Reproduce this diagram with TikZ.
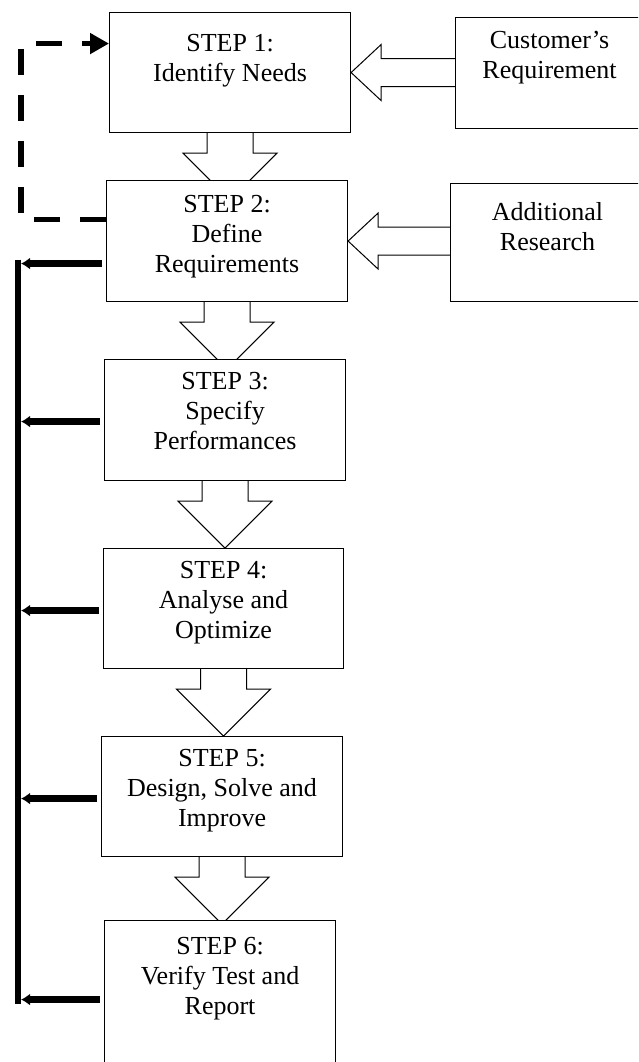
\documentclass[tikz,border=0pt]{standalone}
\usepackage{fontspec}
\setmainfont{Liberation Serif}
\usetikzlibrary{arrows.meta,calc,backgrounds}

\newcommand{\lowpad}[1]{\rule[-#1]{0pt}{#1}}

\tikzset{
    stepbox/.style={draw, line width=1.1pt, fill=white, align=center, anchor=north west,
        minimum width=241pt, minimum height=120pt, inner sep=2pt,
        font=\fontsize{26}{30}\selectfont},
    hollow/.style={draw, line width=1pt, fill=white},
    feedline/.style={line width=5.5pt},
    feedarrow/.style={line width=7pt, -{Latex[length=9pt,width=12pt]}, shorten <=4pt},
    loopline/.style={line width=5.5pt, dash pattern=on 26pt off 20pt, -{Triangle[length=19pt,width=20pt]}},
}

\begin{document}
\begin{tikzpicture}[x=1pt, y=1pt]
    \useasboundingbox (0,0) rectangle (638,-1062);
    \clip (0,0) rectangle (638,-1062);

    \node[stepbox] (s1) at (109,-12) {STEP 1:\\Identify Needs\lowpad{29.5pt}};
    \node[stepbox, minimum height=121pt] (s2) at (106,-180) {STEP 2:\\Define\\Requirements\lowpad{14.5pt}};
    \node[stepbox, minimum height=121pt] (s3) at (104,-359) {STEP 3:\\Specify\\Performances\lowpad{18.5pt}};
    \node[stepbox, minimum width=240pt] (s4) at (103,-548) {STEP 4:\\Analyse and\\Optimize\lowpad{17.5pt}};
    \node[stepbox] (s5) at (101,-736) {STEP 5:\\Design, Solve and\\Improve\lowpad{17.5pt}};
    \node[stepbox, minimum width=231pt, minimum height=158pt] (s6) at (104,-920) {STEP 6:\\Verify Test and\\Report\lowpad{47.5pt}};

    \node[stepbox, minimum width=188pt, minimum height=111pt] (cust) at (455,-17) {Customer's\\Requirement\lowpad{36.6pt}};
    \node[stepbox, minimum width=194pt, minimum height=118pt] (research) at (450,-183) {Additional\\Research\lowpad{31.8pt}};

    \begin{scope}[on background layer]
        \foreach \a in {s1,s2,s3,s4,s5}
            \draw[hollow] ($(\a.south)+(-23,1)$) -- ++(0,-21) -- ++(-24,0) -- ++(47,-47)
                -- ++(47,47) -- ++(-24,0) -- ++(0,21) -- cycle;
        \foreach \r/\s in {cust/s1, research/s2}
            \draw[hollow] ($(\s.east -| \r.west)+(1,14)$) -- ($(\s.east)+(30,14)$) -- ++(0,14)
                -- (\s.east) -- ++(30,-28) -- ++(0,14) -- ($(\s.east -| \r.west)+(1,-14)$) -- cycle;
    \end{scope}

    \coordinate (fbx) at (18,0);
    \coordinate (loopx) at (21,0);

    \draw[feedline] ($(s2.west -| fbx)+(0,-18.5)$) -- ($(s6.west -| fbx)+(0,-4)$);
    \foreach \s/\dy in {s2/-22.5, s3/-1.5, s4/-2, s5/-2, s6/0}
        \draw[feedarrow] ($(\s.west)+(0,\dy)$) -- ($(\s.west -| fbx)+(3,\dy)$);

    \draw[loopline] ($(s2.west)+(0,21.5)$) -- ($(s2.west -| loopx)+(0,21.5)$) |- ($(s1.west)+(0,29)$);
\end{tikzpicture}
\end{document}
